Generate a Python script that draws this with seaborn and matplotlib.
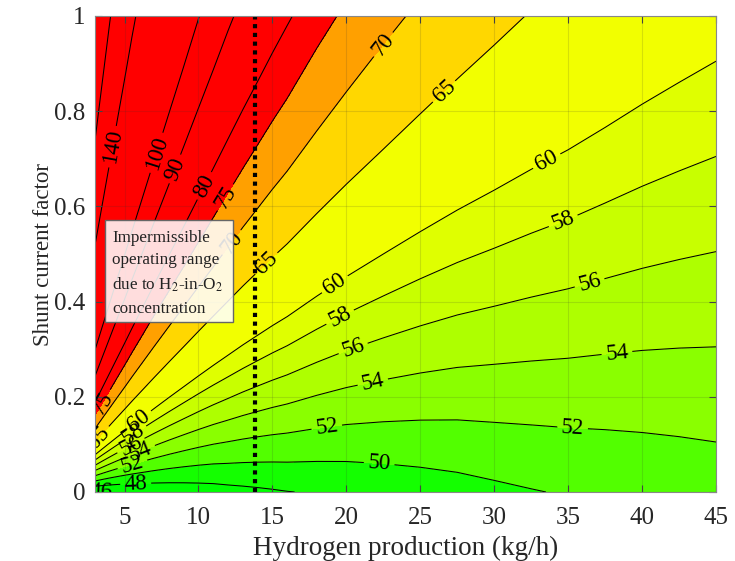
import numpy as np
import pandas as pd
import matplotlib
matplotlib.use("Agg")
import matplotlib.pyplot as plt
import seaborn as sns
from matplotlib.patches import Rectangle

# ---------------- data ----------------
# hydrogen production (kg/h) grid columns
x_nodes = [3, 3.5, 4, 4.5, 5, 5.5, 6, 7, 8, 9, 10, 11, 12, 13, 14, 15, 16, 18,
           20, 22.5, 25, 27.5, 30, 32.5, 35, 37.5, 40, 42.5, 45]
# shunt current factor grid rows
y_nodes = [0.0, 1.0]
# field value along the bottom edge (shunt factor 0)
z_at_y0 = [45.8, 45.9, 46.0, 46.1, 46.2, 46.3, 46.4, 46.55, 46.7, 46.85, 47.0,
           47.15, 47.35, 47.5, 47.65, 47.8, 47.95, 48.15, 48.35, 48.65, 48.95,
           49.25, 49.6, 49.9, 50.15, 50.35, 50.55, 50.75, 50.95]
# field value along the top edge (shunt factor 1)
z_at_y1 = [227.5, 201.3, 181.75, 166.5, 154.4, 144.3, 136.1, 123.25, 113.7,
           106.3, 100.3, 95.45, 91.35, 87.95, 85.15, 82.7, 80.65, 76.95, 74.1,
           71.35, 69.15, 67.4, 66.0, 64.8, 63.85, 62.95, 62.15, 61.5, 60.95]

fill_levels = [0, 46, 48, 50, 52, 54, 56, 58, 60, 65, 70, 75, 1000]
line_levels = [46, 48, 50, 52, 54, 56, 58, 60, 65, 70, 75, 80, 90, 100, 140, 180]
h2_limit_x = 13.85

x_ticks = [5, 10, 15, 20, 25, 30, 35, 40, 45]
y_ticks = [0, 0.2, 0.4, 0.6, 0.8, 1]
y_tick_labels = ["0", "0.2", "0.4", "0.6", "0.8", "1"]

# ---------------- styling ----------------
band_colors = ["#00ff00", "#00ff00", "#14ff00", "#52ff00", "#8aff00", "#aeff00",
               "#c8ff00", "#dfff00", "#f2ff00", "#ffd700", "#ffa000", "#ff0000"]

sns.set_theme(style="ticks")
plt.rcParams["font.family"] = ["Liberation Serif", "DejaVu Serif"]
plt.rcParams["mathtext.fontset"] = "stix"

fig = plt.figure(figsize=(7.35, 5.61), dpi=100)
ax = fig.add_axes([95 / 735, 1 - 492 / 561, (716 - 95) / 735, (492 - 16) / 561])

X, Y = np.meshgrid(np.array(x_nodes), np.array(y_nodes))
Z = np.vstack([np.array(z_at_y0), np.array(z_at_y1)])

ax.contourf(X, Y, Z, levels=fill_levels, colors=band_colors, zorder=1)
cs = ax.contour(X, Y, Z, levels=line_levels, colors="black", linewidths=0.75, zorder=2)

label_spots = [
    (3.4, 0.004), (5.75, 0.019), (5.6, 0.05), (22.2, 0.05),
    (18.7, 0.13), (35.3, 0.134), (6.0, 0.092), (21.8, 0.229), (38.3, 0.292),
    (5.3, 0.105), (20.5, 0.298), (36.4, 0.445), (5.5, 0.125), (19.6, 0.366),
    (34.6, 0.575), (5.95, 0.151), (19.25, 0.435), (33.4, 0.704),
    (3.2, 0.115), (14.5, 0.483), (26.5, 0.845), (12.3, 0.523), (22.5, 0.94),
    (3.5, 0.187), (11.77, 0.62), (10.6, 0.64), (8.3, 0.68), (7.23, 0.712),
    (4.26, 0.725),
]
ax.clabel(cs, manual=label_spots, fmt="%d", fontsize=16.5, inline=True,
          inline_spacing=4, colors="black")

ax.axvline(h2_limit_x, color="black", linestyle=(0, (1, 1.1)), linewidth=3, zorder=4)

# annotation box
ax.add_patch(Rectangle((3.7, 0.357), 8.65, 0.214, facecolor="white", alpha=0.87,
                       edgecolor="none", zorder=5))
ax.add_patch(Rectangle((3.7, 0.357), 8.65, 0.214, facecolor="none",
                       edgecolor="#666666", linewidth=1, zorder=6))
ax.text(4.15, 0.551, "Impermissible\noperating range\ndue to H$_2$-in-O$_2$\nconcentration",
        fontsize=12.3, va="top", ha="left", linespacing=1.55, zorder=7, color="#222222")

ax.set_xlim(3, 45)
ax.set_ylim(0, 1)
ax.set_xticks(x_ticks)
ax.set_yticks(y_ticks)
ax.set_yticklabels(y_tick_labels)
ax.tick_params(direction="in", top=True, right=True, labelsize=18, length=5,
               color="#444444", width=0.8)
ax.tick_params(axis="x", pad=11)
ax.tick_params(axis="y", pad=7)
ax.grid(True, color="#333333", alpha=0.15, linewidth=0.8, zorder=3)
ax.set_axisbelow(False)
for s in ax.spines.values():
    s.set_color("#888888")
    s.set_linewidth(0.8)
    s.set_zorder(8)

ax.set_xlabel("Hydrogen production (kg/h)", fontsize=19.5, labelpad=5)
ax.set_ylabel("Shunt current factor", fontsize=16.5, labelpad=0)

fig.savefig("out.png", dpi=100)
